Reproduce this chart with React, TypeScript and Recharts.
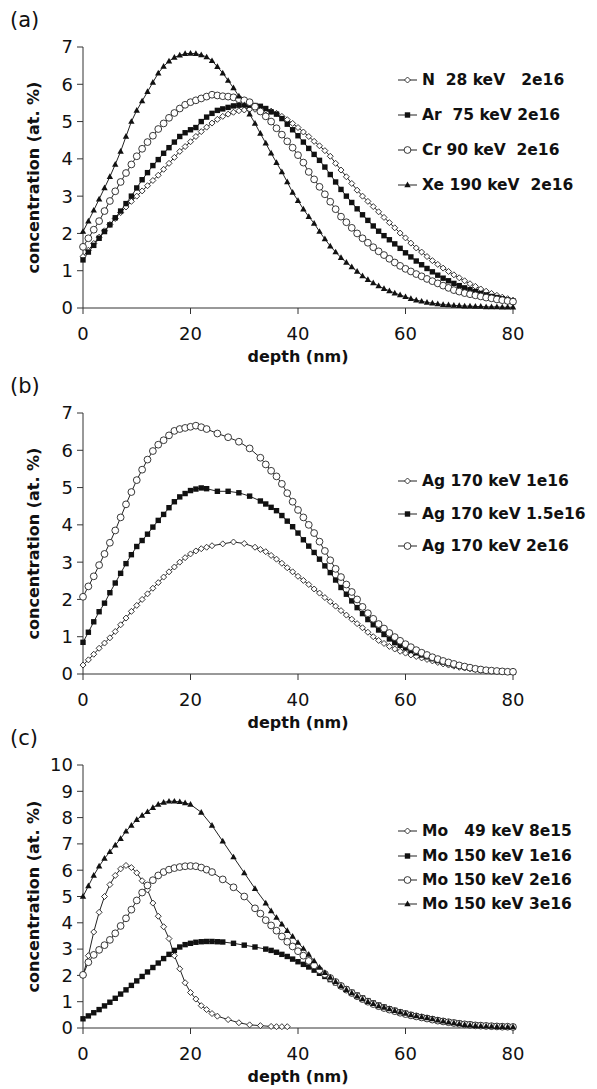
import { LineChart, Line, XAxis, YAxis, Legend } from "recharts";

const FONT = '"DejaVu Sans", Verdana, sans-serif';

// depth grid (nm) shared by the evenly sampled profiles
const depth = [
  0, 1, 2, 3, 4, 5, 6, 7, 8, 9, 10, 11, 12, 13, 14, 15, 16, 17, 18, 19, 20,
  21, 22, 23, 24, 25, 26, 27, 28, 29, 30, 31, 32, 33, 34, 35, 36, 37, 38, 39, 40,
  41, 42, 43, 44, 45, 46, 47, 48, 49, 50, 51, 52, 53, 54, 55, 56, 57, 58, 59, 60,
  61, 62, 63, 64, 65, 66, 67, 68, 69, 70, 71, 72, 73, 74, 75, 76, 77, 78, 79, 80,
];

// (a)
const nVals = [
  1.38, 1.55, 1.73, 1.9, 2.07, 2.24, 2.4, 2.56, 2.71, 2.86,
  3.0, 3.14, 3.28, 3.42, 3.56, 3.72, 3.88, 4.04, 4.2, 4.33,
  4.46, 4.6, 4.73, 4.85, 4.96, 5.06, 5.14, 5.2, 5.25, 5.29,
  5.31, 5.33, 5.33, 5.33, 5.31, 5.28, 5.22, 5.14, 5.05, 4.95,
  4.84, 4.72, 4.6, 4.47, 4.35, 4.22, 4.07, 3.88, 3.7, 3.52,
  3.34, 3.16, 3.0, 2.86, 2.72, 2.58, 2.43, 2.29, 2.15, 2.01,
  1.88, 1.74, 1.61, 1.5, 1.38, 1.27, 1.17, 1.07, 0.98, 0.89,
  0.81, 0.73, 0.65, 0.58, 0.51, 0.45, 0.39, 0.34, 0.29, 0.25,
  0.21,
];
const arVals = [
  1.29, 1.5, 1.68, 1.87, 2.05, 2.23, 2.42, 2.6, 2.8, 3.0,
  3.22, 3.44, 3.63, 3.82, 3.98, 4.15, 4.3, 4.45, 4.6, 4.7,
  4.78, 4.84, 5.0, 5.12, 5.22, 5.3, 5.34, 5.38, 5.42, 5.44,
  5.45, 5.44, 5.43, 5.41, 5.35, 5.26, 5.2, 5.08, 4.93, 4.78,
  4.62, 4.45, 4.28, 4.12, 3.96, 3.78, 3.58, 3.38, 3.18, 3.0,
  2.83, 2.66, 2.5, 2.35, 2.2, 2.06, 1.94, 1.83, 1.72, 1.6,
  1.48, 1.37, 1.26, 1.16, 1.06, 0.97, 0.88, 0.8, 0.73, 0.66,
  0.6, 0.54, 0.49, 0.44, 0.39, 0.35, 0.31, 0.28, 0.25, 0.22,
  0.19,
];
const crVals = [
  1.64, 1.87, 2.1, 2.33, 2.6, 2.87, 3.13, 3.38, 3.62, 3.85,
  4.07, 4.27, 4.45, 4.62, 4.8, 4.95, 5.1, 5.23, 5.35, 5.45,
  5.52, 5.57, 5.62, 5.67, 5.72, 5.7, 5.68, 5.67, 5.65, 5.6,
  5.57, 5.52, 5.4, 5.27, 5.14, 5.0, 4.82, 4.65, 4.47, 4.3,
  4.1, 3.9, 3.65, 3.45, 3.25, 3.05, 2.85, 2.65, 2.45, 2.3,
  2.15, 2.0, 1.87, 1.75, 1.63, 1.52, 1.42, 1.32, 1.22, 1.13,
  1.05, 0.98, 0.91, 0.85, 0.78, 0.72, 0.66, 0.6, 0.54, 0.48,
  0.44, 0.4, 0.37, 0.34, 0.31, 0.28, 0.26, 0.23, 0.21, 0.19,
  0.17,
];
const xeVals = [
  2.05, 2.33, 2.62, 2.92, 3.22, 3.52, 3.85, 4.2, 4.6, 5.0,
  5.3, 5.55, 5.8, 6.05, 6.3, 6.48, 6.62, 6.72, 6.78, 6.82,
  6.83, 6.82, 6.79, 6.73, 6.63, 6.47, 6.3, 6.1, 5.9, 5.68,
  5.45, 5.2, 4.95, 4.68, 4.42, 4.15, 3.9, 3.65, 3.38, 3.1,
  2.88, 2.65, 2.45, 2.27, 2.05, 1.85, 1.66, 1.5, 1.35, 1.22,
  1.1, 0.98, 0.86, 0.76, 0.67, 0.59, 0.52, 0.46, 0.4, 0.35,
  0.3, 0.25, 0.21, 0.18, 0.15, 0.13, 0.11, 0.09, 0.08, 0.07,
  0.06, 0.05, 0.05, 0.04, 0.04, 0.03, 0.03, 0.03, 0.02, 0.02,
  0.02,
];

// (b)
const ag1Depth = [
  0, 1, 2, 3, 4, 5, 6, 7, 8, 9, 10, 11, 12, 13, 14, 15, 16, 17, 18, 19, 20,
  21, 22, 23, 24, 26, 28, 30, 32, 33, 34, 35, 36, 37, 38, 39, 40,
  41, 42, 43, 44, 45, 46, 47, 48, 49, 50, 51, 52, 53, 54, 55, 56, 57, 58, 59, 60,
  61, 62, 63, 64, 65, 66, 67, 68, 69, 70, 71, 72, 73, 74, 75, 76, 77, 78, 79, 80,
];
const ag1Vals = [
  0.24, 0.38, 0.53, 0.69, 0.83, 0.97, 1.14, 1.32, 1.5, 1.68,
  1.84, 2.0, 2.15, 2.3, 2.45, 2.6, 2.74, 2.87, 3.0, 3.12,
  3.22, 3.3, 3.36, 3.4, 3.44,
  3.49, 3.54, 3.5, 3.4,
  3.34, 3.28, 3.18, 3.08, 2.97, 2.85, 2.74,
  2.62, 2.51, 2.4, 2.28, 2.17, 2.05, 1.94, 1.82, 1.7, 1.58,
  1.47, 1.35, 1.24, 1.12, 1.0, 0.9, 0.82, 0.74, 0.67, 0.61,
  0.56, 0.51, 0.47, 0.43, 0.39, 0.35, 0.31, 0.27, 0.24, 0.21,
  0.18, 0.16, 0.14, 0.12, 0.1, 0.09, 0.08, 0.07, 0.06, 0.06,
  0.05,
];
const agDepth = [
  0, 1, 2, 3, 4, 5, 6, 7, 8, 9, 10, 11, 12, 13, 14, 15, 16, 17, 18, 19, 20,
  21, 22, 23, 25, 27, 29, 31, 33, 34, 35, 36, 37, 38, 39, 40,
  41, 42, 43, 44, 45, 46, 47, 48, 49, 50, 51, 52, 53, 54, 55, 56, 57, 58, 59, 60,
  61, 62, 63, 64, 65, 66, 67, 68, 69, 70, 71, 72, 73, 74, 75, 76, 77, 78, 79, 80,
];
const ag15Vals = [
  0.85, 1.12, 1.4, 1.67, 1.9, 2.18, 2.44, 2.7, 2.96, 3.2,
  3.42, 3.58, 3.75, 3.94, 4.12, 4.28, 4.46, 4.62, 4.75, 4.84,
  4.92, 4.96, 4.99, 4.97,
  4.9, 4.9, 4.86, 4.77, 4.64,
  4.56, 4.47, 4.38, 4.25, 4.1, 3.95,
  3.78, 3.6, 3.43, 3.26, 3.08, 2.9, 2.72, 2.52, 2.32, 2.14,
  1.96, 1.78, 1.62, 1.46, 1.32, 1.18, 1.06, 0.94, 0.84, 0.77,
  0.7, 0.63, 0.57, 0.51, 0.46, 0.41, 0.36, 0.32, 0.28, 0.24,
  0.21, 0.18, 0.16, 0.14, 0.12, 0.1, 0.09, 0.08, 0.07, 0.06,
  0.05,
];
const ag2Vals = [
  2.07, 2.35, 2.62, 2.92, 3.22, 3.52, 3.85, 4.2, 4.55, 4.88,
  5.2, 5.48, 5.75, 5.98, 6.15, 6.27, 6.4, 6.52, 6.57, 6.6,
  6.63, 6.66, 6.62, 6.57,
  6.45, 6.35, 6.23, 6.05, 5.8,
  5.62, 5.45, 5.3, 5.1, 4.85, 4.62,
  4.4, 4.2, 4.0, 3.78, 3.55, 3.3, 3.05, 2.82, 2.6, 2.4,
  2.2, 2.0, 1.8, 1.63, 1.48, 1.34, 1.22, 1.1, 0.99, 0.89,
  0.8, 0.72, 0.64, 0.57, 0.51, 0.45, 0.4, 0.35, 0.31, 0.27,
  0.23, 0.2, 0.17, 0.14, 0.12, 0.1, 0.09, 0.08, 0.07, 0.06,
  0.06,
];

// (c)
const mo49Depth = [
  0, 1, 2, 3, 4, 5, 6, 7, 8, 9, 10, 11, 12, 13, 14, 15, 16, 17, 18, 19, 20,
  21, 22, 23, 24, 25, 27, 29, 31, 33, 35, 36, 37, 38,
];
const mo49Vals = [
  2.0, 2.75, 3.65, 4.4, 5.0, 5.45, 5.8, 6.05, 6.18, 6.1,
  5.9, 5.6, 5.25, 4.75, 4.25, 3.85, 3.4, 2.75, 2.25, 1.72,
  1.35, 1.1, 0.85, 0.7, 0.55, 0.45,
  0.32, 0.2, 0.12, 0.09, 0.06, 0.05, 0.05, 0.05,
];
const mo1Depth = [
  0, 1, 2, 3, 4, 5, 6, 7, 8, 9, 10, 11, 12, 13, 14, 15, 16, 17, 18, 19, 20,
  21, 22, 23, 24, 25, 26, 28, 30, 32, 34, 35, 36, 37, 38, 39, 40,
  41, 42, 43, 44, 45, 46, 47, 48, 49, 50, 51, 52, 53, 54, 55, 56, 57, 58, 59, 60,
  61, 62, 63, 64, 65, 66, 67, 68, 69, 70, 71, 72, 73, 74, 75, 76, 77, 78, 79, 80,
];
const mo1Vals = [
  0.35, 0.46, 0.58, 0.7, 0.84, 0.98, 1.13, 1.29, 1.45, 1.62,
  1.79, 1.96, 2.13, 2.3, 2.47, 2.64, 2.8, 2.95, 3.08, 3.17,
  3.22, 3.26, 3.28, 3.29, 3.29, 3.28, 3.27,
  3.22, 3.15, 3.08,
  3.0, 2.95, 2.88, 2.8, 2.72, 2.62,
  2.52, 2.42, 2.32, 2.2, 2.08, 1.96, 1.84, 1.72, 1.6, 1.48,
  1.36, 1.25, 1.14, 1.04, 0.95, 0.87, 0.8, 0.73, 0.67, 0.61,
  0.56, 0.51, 0.46, 0.42, 0.38, 0.34, 0.3, 0.27, 0.24, 0.21,
  0.18, 0.16, 0.14, 0.12, 0.1, 0.09, 0.08, 0.07, 0.06, 0.05,
  0.05,
];
const mo2Depth = [
  0, 1, 2, 3, 4, 5, 6, 7, 8, 9, 10, 11, 12, 13, 14, 15, 16, 17, 18, 19, 20,
  21, 22, 23, 24, 26, 28, 30, 32, 33, 34, 35, 36, 37, 38, 39, 40,
  41, 42, 43, 44, 45, 46, 47, 48, 49, 50, 51, 52, 53, 54, 55, 56, 57, 58, 59, 60,
  61, 62, 63, 64, 65, 66, 67, 68, 69, 70, 71, 72, 73, 74, 75, 76, 77, 78, 79, 80,
];
const mo2Vals = [
  2.02, 2.5, 2.78, 2.97, 3.15, 3.35, 3.6, 3.88, 4.17, 4.5,
  4.85, 5.15, 5.42, 5.62, 5.8, 5.93, 6.02, 6.08, 6.12, 6.15,
  6.16, 6.15, 6.1, 6.02, 5.93,
  5.65, 5.35, 5.0,
  4.55, 4.35, 4.1, 3.9, 3.7, 3.48, 3.28, 3.1,
  2.92, 2.75, 2.55, 2.38, 2.2, 2.05, 1.9, 1.75, 1.6, 1.46,
  1.33, 1.21, 1.1, 1.0, 0.91, 0.83, 0.76, 0.7, 0.64, 0.58,
  0.53, 0.48, 0.44, 0.4, 0.36, 0.32, 0.28, 0.25, 0.22, 0.19,
  0.16, 0.14, 0.12, 0.1, 0.09, 0.08, 0.07, 0.06, 0.05, 0.05,
  0.04,
];
const mo3Depth = [
  0, 1, 2, 3, 4, 5, 6, 7, 8, 9, 10, 11, 12, 13, 14, 15, 16, 17, 18, 19, 20,
  22, 24, 26, 28, 30, 32, 34, 35, 36, 37, 38, 39, 40,
  41, 42, 43, 44, 45, 46, 47, 48, 49, 50, 51, 52, 53, 54, 55, 56, 57, 58, 59, 60,
  61, 62, 63, 64, 65, 66, 67, 68, 69, 70, 71, 72, 73, 74, 75, 76, 77, 78, 79, 80,
];
const mo3Vals = [
  5.0, 5.4, 5.8, 6.15, 6.45, 6.7, 6.95, 7.2, 7.48, 7.7,
  7.92, 8.08, 8.22, 8.38, 8.5, 8.58, 8.62, 8.62, 8.6, 8.56, 8.5,
  8.2, 7.7, 7.1, 6.5, 5.9, 5.3,
  4.75, 4.45, 4.2, 3.95, 3.7, 3.48,
  3.25, 3.02, 2.8, 2.55, 2.3, 2.1, 1.92, 1.76, 1.6, 1.46,
  1.33, 1.21, 1.1, 1.0, 0.92, 0.84, 0.78, 0.72, 0.66, 0.6,
  0.55, 0.5, 0.46, 0.42, 0.38, 0.34, 0.3, 0.26, 0.22, 0.19,
  0.16, 0.13, 0.11, 0.09, 0.08, 0.07, 0.06, 0.05, 0.05, 0.04,
  0.04,
];

const depthTicks = [0, 20, 40, 60, 80];
const concTicks7 = [0, 1, 2, 3, 4, 5, 6, 7];
const concTicks10 = [0, 1, 2, 3, 4, 5, 6, 7, 8, 9, 10];

type Shape = "diamond" | "square" | "circle" | "triangle";

interface Series {
  name: string;
  shape: Shape;
  depth: number[];
  values: number[];
}

const seriesA: Series[] = [
  { name: "N  28 keV   2e16", shape: "diamond", depth, values: nVals },
  { name: "Ar  75 keV 2e16", shape: "square", depth, values: arVals },
  { name: "Cr 90 keV  2e16", shape: "circle", depth, values: crVals },
  { name: "Xe 190 keV  2e16", shape: "triangle", depth, values: xeVals },
];
const seriesB: Series[] = [
  { name: "Ag 170 keV 1e16", shape: "diamond", depth: ag1Depth, values: ag1Vals },
  { name: "Ag 170 keV 1.5e16", shape: "square", depth: agDepth, values: ag15Vals },
  { name: "Ag 170 keV 2e16", shape: "circle", depth: agDepth, values: ag2Vals },
];
const seriesC: Series[] = [
  { name: "Mo   49 keV 8e15", shape: "diamond", depth: mo49Depth, values: mo49Vals },
  { name: "Mo 150 keV 1e16", shape: "square", depth: mo1Depth, values: mo1Vals },
  { name: "Mo 150 keV 2e16", shape: "circle", depth: mo2Depth, values: mo2Vals },
  { name: "Mo 150 keV 3e16", shape: "triangle", depth: mo3Depth, values: mo3Vals },
];

const Marker = ({ shape, cx, cy }: { shape: Shape; cx: number; cy: number }) => {
  if (shape === "diamond")
    return (
      <path
        d={`M${cx},${cy - 3}L${cx + 3},${cy}L${cx},${cy + 3}L${cx - 3},${cy}Z`}
        fill="#fff"
        stroke="#222"
        strokeWidth={0.9}
      />
    );
  if (shape === "square")
    return <rect x={cx - 2.7} y={cy - 2.7} width={5.4} height={5.4} fill="#111" />;
  if (shape === "circle")
    return <circle cx={cx} cy={cy} r={3.4} fill="#fff" stroke="#222" strokeWidth={0.9} />;
  return (
    <path
      d={`M${cx},${cy - 3.4}L${cx + 3.2},${cy + 2.3}L${cx - 3.2},${cy + 2.3}Z`}
      fill="#111"
    />
  );
};

const dotFor = (shape: Shape) => (p: any) => {
  if (p.cx == null || p.cy == null) return <g key={p.index} />;
  return (
    <g key={p.index}>
      <Marker shape={shape} cx={p.cx} cy={p.cy} />
    </g>
  );
};

const legendFor = (series: Series[], rowH: number) => () => (
  <div style={{ fontFamily: FONT, fontWeight: 700, fontSize: 15.5, color: "#111" }}>
    {series.map((s) => (
      <div
        key={s.name}
        style={{ display: "flex", alignItems: "center", height: rowH, whiteSpace: "pre" }}
      >
        <svg width={22} height={10}>
          <line x1={1} y1={5} x2={20} y2={5} stroke="#222" strokeWidth={1} />
          <Marker shape={s.shape} cx={10.5} cy={5} />
        </svg>
        <span style={{ marginLeft: 3 }}>{s.name}</span>
      </div>
    ))}
  </div>
);

interface PanelProps {
  top: number;
  height: number;
  tag: string;
  yMax: number;
  yTicks: number[];
  series: Series[];
  legendTop: number;
  rowH: number;
}

const Panel = ({ top, height, tag, yMax, yTicks, series, legendTop, rowH }: PanelProps) => (
  <div style={{ position: "absolute", left: 0, top, width: 597, height }}>
    <div
      style={{
        position: "absolute",
        left: 10,
        top: 8,
        fontFamily: FONT,
        fontSize: 21,
        color: "#111",
        lineHeight: "24px",
      }}
    >
      {tag}
    </div>
    <LineChart width={597} height={height} margin={{ top: 47, right: 84, bottom: 0, left: 0 }}>
      <XAxis
        type="number"
        dataKey="x"
        domain={[0, 80]}
        ticks={depthTicks}
        stroke="#333"
        tickSize={6}
        tickMargin={13}
        height={60}
        tick={{ fontFamily: FONT, fontSize: 18, fill: "#111" }}
        label={{
          value: "depth (nm)",
          position: "insideBottom",
          offset: 6,
          style: { fontFamily: FONT, fontSize: 16, fontWeight: 700, fill: "#111" },
        }}
      />
      <YAxis
        type="number"
        domain={[0, yMax]}
        ticks={yTicks}
        stroke="#333"
        tickSize={6}
        tickMargin={4}
        width={83}
        tick={{ fontFamily: FONT, fontSize: 18, fill: "#111" }}
        label={{
          value: "concentration (at. %)",
          angle: -90,
          position: "center",
          dx: -8,
          style: { fontFamily: FONT, fontSize: 16, fontWeight: 700, fill: "#111" },
        }}
      />
      <Legend
        layout="vertical"
        align="center"
        verticalAlign="middle"
        content={legendFor(series, rowH)}
        wrapperStyle={{ left: 397, top: legendTop, width: 200 }}
      />
      {series.map((s) => (
        <Line
          key={s.name}
          data={s.depth.map((d, i) => ({ x: d, y: s.values[i] }))}
          dataKey="y"
          name={s.name}
          stroke="#222"
          strokeWidth={1}
          dot={dotFor(s.shape)}
          activeDot={false}
          isAnimationActive={false}
        />
      ))}
    </LineChart>
  </div>
);

export default function App() {
  return (
    <div style={{ position: "absolute", left: 0, top: 0, width: 597, height: 1089, background: "#fff" }}>
      <Panel top={0} height={368} tag="(a)" yMax={7} yTicks={concTicks7} series={seriesA} legendTop={62} rowH={35} />
      <Panel top={366} height={368} tag="(b)" yMax={7} yTicks={concTicks7} series={seriesB} legendTop={99} rowH={32.5} />
      <Panel top={718} height={370} tag="(c)" yMax={10} yTicks={concTicks10} series={seriesC} legendTop={101} rowH={24.4} />
    </div>
  );
}
